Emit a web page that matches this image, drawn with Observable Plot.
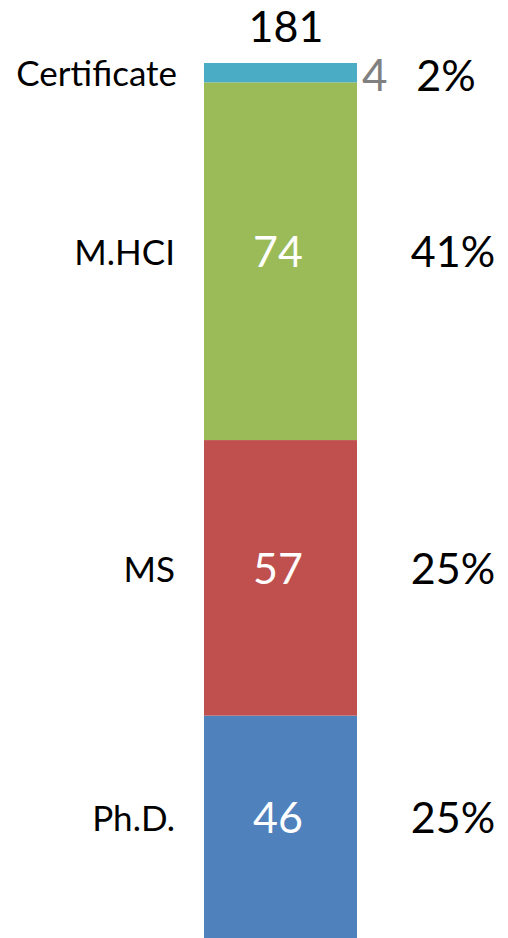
<!DOCTYPE html>
<html>
<head>
<meta charset="utf-8">
<script src="https://cdn.jsdelivr.net/npm/d3@7"></script>
<script src="https://cdn.jsdelivr.net/npm/@observablehq/plot@0.6"></script>
<style>
  html, body { margin: 0; padding: 0; background: #fff; }
  #chart svg { display: block; }
</style>
</head>
<body>
<div id="chart"></div>
<script>
const categories = ["Ph.D.", "MS", "M.HCI", "Certificate"];
const counts = [46, 57, 74, 4];
const shares = ["25%", "25%", "41%", "2%"];
const totalLabel = ["181"];
const colors = ["#4F81BD", "#C0504D", "#9BBB59", "#4BACC6"];

const ends = d3.cumsum(counts);
const rows = categories.map((c, i) => ({
  cat: c,
  count: counts[i],
  share: shares[i],
  y1: ends[i] - counts[i],
  y2: ends[i],
  mid: ends[i] - counts[i] / 2
}));
const total = d3.sum(counts);
const big = rows.filter(d => d.count >= 10);
const small = rows.filter(d => d.count < 10);
const bar = () => "Students";
const font = "Lato, 'Open Sans', sans-serif";

const chart = Plot.plot({
  width: 508,
  height: 938,
  marginLeft: 204,
  marginRight: 151,
  marginTop: 63,
  marginBottom: 0,
  style: { fontFamily: font, background: "#fff" },
  x: { type: "band", domain: ["Students"], padding: 0, axis: null },
  y: { domain: [0, total], axis: null },
  color: { domain: categories, range: colors },
  marks: [
    Plot.barY(rows, { x: bar, y1: "y1", y2: "y2", fill: "cat" }),
    // big segments
    Plot.text(big, { x: bar, y: "mid", text: "cat", textAnchor: "end", dx: -106, dy: -8, fontSize: 35, fill: "#000" }),
    Plot.text(big, { x: bar, y: "mid", text: d => String(d.count), dx: -3, dy: -8, fontSize: 43, fill: "#fff" }),
    Plot.text(big, { x: bar, y: "mid", text: "share", dx: 172, dy: -8, fontSize: 43, fill: "#000" }),
    // small segments
    Plot.text(small, { x: bar, y: "mid", text: "cat", textAnchor: "end", dx: -104, dy: 2, fontSize: 35, fill: "#000" }),
    Plot.text(small, { x: bar, y: "mid", text: d => String(d.count), textAnchor: "start", dx: 81, dy: 4, fontSize: 44, fill: "#808080" }),
    Plot.text(small, { x: bar, y: "mid", text: "share", dx: 165, dy: 4, fontSize: 43, fill: "#000" }),
    // total
    Plot.text(totalLabel, { x: bar, y: () => total, text: d => d, dx: 5, dy: -35, fontSize: 43, fill: "#000" })
  ]
});
document.getElementById("chart").appendChild(chart);
</script>
</body>
</html>
